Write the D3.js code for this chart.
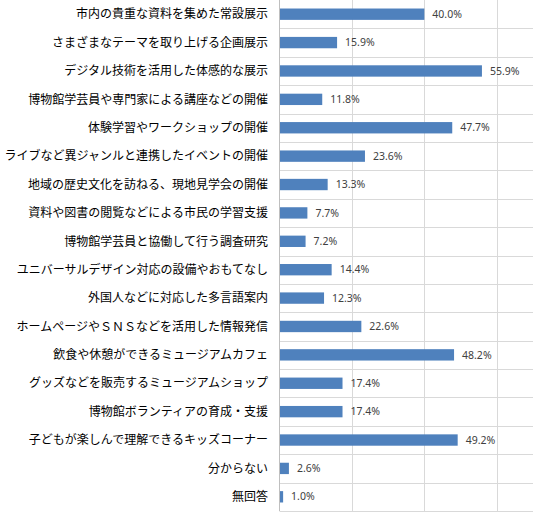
<!DOCTYPE html>
<html>
<head>
<meta charset="utf-8">
<script src="https://cdn.jsdelivr.net/npm/d3@7"></script>
<style>
  html, body { margin: 0; padding: 0; background: #fff; }
  svg { display: block; }
</style>
</head>
<body>
<svg id="chart" width="541" height="521"></svg>
<script>
const categories = [
  "市内の貴重な資料を集めた常設展示",
  "さまざまなテーマを取り上げる企画展示",
  "デジタル技術を活用した体感的な展示",
  "博物館学芸員や専門家による講座などの開催",
  "体験学習やワークショップの開催",
  "ライブなど異ジャンルと連携したイベントの開催",
  "地域の歴史文化を訪ねる、現地見学会の開催",
  "資料や図書の閲覧などによる市民の学習支援",
  "博物館学芸員と協働して行う調査研究",
  "ユニバーサルデザイン対応の設備やおもてなし",
  "外国人などに対応した多言語案内",
  "ホームページやＳＮＳなどを活用した情報発信",
  "飲食や休憩ができるミュージアムカフェ",
  "グッズなどを販売するミュージアムショップ",
  "博物館ボランティアの育成・支援",
  "子どもが楽しんで理解できるキッズコーナー",
  "分からない",
  "無回答"
];
const values = [40.0, 15.9, 55.9, 11.8, 47.7, 23.6, 13.3, 7.7, 7.2, 14.4, 12.3, 22.6, 48.2, 17.4, 17.4, 49.2, 2.6, 1.0];
const gridTicks = [20, 40, 60];
const xMax = 70;

const svg = d3.select("#chart");
const plot = { left: 279.5, right: 533, top: 0, bottom: 511 };

const x = d3.scaleLinear().domain([0, xMax]).range([plot.left, plot.right]);
const y = d3.scaleBand()
    .domain(categories)
    .range([plot.top, plot.bottom])
    .paddingInner(0.6)
    .paddingOuter(0.3);

const data = categories.map((c, i) => ({ cat: c, val: values[i] }));

// horizontal separators between categories
const sepYs = d3.range(1, categories.length + 1).map(i => plot.top + i * y.step());
svg.append("g")
    .selectAll("line")
    .data(sepYs)
    .enter()
    .append("line")
    .attr("x1", plot.left)
    .attr("x2", plot.right)
    .attr("y1", d => Math.round(d) + 0.5)
    .attr("y2", d => Math.round(d) + 0.5)
    .attr("stroke", "#d9d9d9")
    .attr("stroke-width", 1);

// vertical gridlines
svg.append("g")
    .selectAll("line")
    .data(gridTicks)
    .enter()
    .append("line")
    .attr("x1", d => Math.round(x(d)) + 0.5)
    .attr("x2", d => Math.round(x(d)) + 0.5)
    .attr("y1", plot.top)
    .attr("y2", plot.bottom)
    .attr("stroke", "#d9d9d9")
    .attr("stroke-width", 1);

// bars
svg.append("g")
    .selectAll("rect")
    .data(data)
    .enter()
    .append("rect")
    .attr("x", x(0))
    .attr("y", d => y(d.cat))
    .attr("width", d => x(d.val) - x(0))
    .attr("height", y.bandwidth())
    .attr("fill", "#4f81bd");

// left axis line
svg.append("line")
    .attr("x1", plot.left)
    .attr("x2", plot.left)
    .attr("y1", plot.top)
    .attr("y2", plot.bottom)
    .attr("stroke", "#bfbfbf")
    .attr("stroke-width", 1);

// category labels
svg.append("g")
    .selectAll("text")
    .data(data)
    .enter()
    .append("text")
    .attr("x", 268)
    .attr("y", d => y(d.cat) + y.bandwidth() / 2)
    .attr("dy", "0.35em")
    .attr("text-anchor", "end")
    .attr("font-family", "'Noto Sans CJK JP', sans-serif")
    .attr("font-size", "12px")
    .attr("fill", "#000")
    .text(d => d.cat);

// value labels
svg.append("g")
    .selectAll("text")
    .data(data)
    .enter()
    .append("text")
    .attr("x", d => x(d.val) + 8)
    .attr("y", d => y(d.cat) + y.bandwidth() / 2)
    .attr("dy", "0.35em")
    .attr("font-family", "'Noto Sans', sans-serif")
    .attr("font-size", "10.5px")
    .attr("fill", "#404040")
    .text(d => d.val.toFixed(1) + "%");
</script>
</body>
</html>
